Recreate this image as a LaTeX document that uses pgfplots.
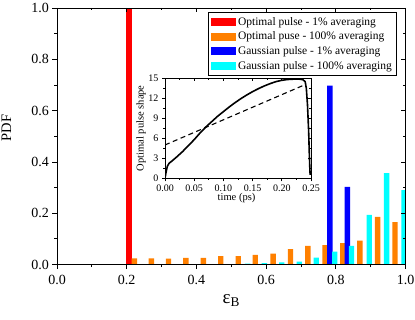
\documentclass[border=0pt]{standalone}
\usepackage{fontspec}
\setmainfont{Liberation Serif}
\usepackage{pgfplots}
\pgfplotsset{compat=1.18}
\definecolor{cRed}{RGB}{255,0,0}
\definecolor{cOrange}{RGB}{255,128,0}
\definecolor{cBlue}{RGB}{0,0,255}
\definecolor{cCyan}{RGB}{0,255,255}
\pgfplotsset{
  mainframe/.style={at={(57pt,54.5pt)}, anchor=south west, scale only axis,
    width=348.5pt, height=256.5pt, xmin=0, xmax=1, ymin=0, ymax=1,
    xtick={0,0.2,0.4,0.6,0.8,1}, minor xtick={0.1,0.3,0.5,0.7,0.9},
    ytick={0,0.2,0.4,0.6,0.8,1}, minor ytick={0.1,0.3,0.5,0.7,0.9},
    major tick length=4.5pt, minor tick length=2.5pt,
    axis line style={line width=0.8pt},
    every tick/.style={black, line width=0.8pt}},
  insetframe/.style={at={(165pt,140.7pt)}, anchor=south west, scale only axis,
    width=146pt, height=100pt, xmin=0, xmax=0.25, ymin=0, ymax=15,
    xtick={0,0.05,0.1,0.15,0.2,0.25}, minor xtick={0.025,0.075,0.125,0.175,0.225},
    ytick={0,3,6,9,12,15}, minor ytick={1.5,4.5,7.5,10.5,13.5},
    major tick length=3pt, minor tick length=1.6pt,
    axis line style={line width=0.7pt},
    every tick/.style={black, line width=0.7pt}},
}
\begin{document}
\begin{tikzpicture}
\path[use as bounding box] (0pt,0pt) rectangle (415pt,319pt);
% main axis
\begin{axis}[mainframe, xtick pos=left, ytick pos=left, tick align=outside,
  tick label style={font=\fontsize{14}{16}\selectfont},
  xticklabel style={yshift=-3pt},
  /pgf/number format/.cd, fixed, fixed zerofill, precision=1, assume math mode=true, /pgfplots/.cd,
  xlabel={\fontsize{19}{21}\selectfont ε\textsubscript{B}},
  xlabel style={at={(axis description cs:0.5,-0.14)}, anchor=center},
  ylabel={\fontsize{14.5}{16}\selectfont PDF},
  ylabel style={at={(axis description cs:-0.145,0.532)}, anchor=center},
  legend style={at={(0.433,0.984)}, anchor=north west, draw=black, line width=0.6pt,
    font=\fontsize{11.5}{13}\selectfont, row sep=0.6pt, inner sep=2.5pt,
    nodes={inner sep=2.3pt}},
  legend cell align=left]
\addplot[ybar, bar width=0.0155, bar shift=0pt, fill=cRed, draw=none,
  legend image code/.code={\fill[cRed] (0pt,-4pt) rectangle (25pt,4pt);}]
  coordinates {(0.207,1.0)};
\addlegendentry{Optimal pulse - 1\% averaging}
\addplot[ybar, bar width=0.0155, bar shift=0pt, fill=cOrange, draw=none,
  legend image code/.code={\fill[cOrange] (0pt,-4pt) rectangle (25pt,4pt);}]
  coordinates {(0.222,0.024)(0.271,0.024)(0.320,0.023)(0.370,0.026)(0.420,0.026)
  (0.470,0.033)(0.520,0.033)(0.569,0.038)(0.620,0.042)(0.670,0.060)(0.720,0.073)
  (0.769,0.076)(0.820,0.083)(0.869,0.093)(0.920,0.186)(0.970,0.165)};
\addlegendentry{Optimal puse - 100\% averaging}
\addplot[ybar, bar width=0.0155, bar shift=0pt, fill=cBlue, draw=none,
  legend image code/.code={\fill[cBlue] (0pt,-4pt) rectangle (25pt,4pt);}]
  coordinates {(0.783,0.697)(0.833,0.303)};
\addlegendentry{Gaussian pulse - 1\% averaging}
\addplot[ybar, bar width=0.0155, bar shift=0pt, fill=cCyan, draw=none,
  legend image code/.code={\fill[cCyan] (0pt,-4pt) rectangle (25pt,4pt);}]
  coordinates {(0.547,0.003)(0.595,0.005)(0.645,0.008)(0.695,0.011)(0.744,0.027)
  (0.797,0.050)(0.845,0.073)(0.896,0.193)(0.946,0.356)(0.996,0.290)};
\addlegendentry{Gaussian pulse - 100\% averaging}
\end{axis}
% mirrored inward ticks on top/right
\begin{axis}[mainframe, xtick pos=right, ytick pos=right, tick align=inside,
  xticklabels={}, yticklabels={}]
\end{axis}
% inset
\begin{axis}[insetframe, xtick pos=left, ytick pos=left, tick align=outside,
  axis background/.style={fill=white},
  tick label style={font=\fontsize{10}{11}\selectfont},
  xticklabel style={/pgf/number format/.cd, fixed, fixed zerofill, precision=2, assume math mode=true},
  yticklabel style={/pgf/number format/.cd, fixed, precision=0, assume math mode=true},
  xlabel={\fontsize{10.5}{12}\selectfont time (ps)},
  xlabel style={at={(axis description cs:0.49,-0.2)}, anchor=center},
  ylabel={\fontsize{10.5}{12}\selectfont Optimal pulse shape},
  ylabel style={at={(axis description cs:-0.163,0.5)}, anchor=center}]
\addplot[black, line width=1.6pt] coordinates {
  (0,0) (0.002,1.0) (0.004,1.8) (0.007,2.25) (0.012,2.6) (0.02,3.2) (0.03,4.0)
  (0.04,4.9) (0.05,5.8) (0.06,6.8) (0.07,7.7) (0.08,8.5) (0.09,9.3) (0.10,10.0)
  (0.11,10.7) (0.12,11.35) (0.13,11.95) (0.14,12.5) (0.15,13.0) (0.16,13.45)
  (0.17,13.85) (0.18,14.2) (0.19,14.5) (0.20,14.7) (0.21,14.82) (0.22,14.87)
  (0.23,14.87) (0.236,14.8) (0.240,14.5) (0.242,13.5) (0.244,11.0) (0.246,7.0)
  (0.247,4.0) (0.248,1.5) (0.2485,0.5)};
\addplot[black, line width=1.1pt, dash pattern=on 5pt off 3.5pt] coordinates {
  (0,5.0) (0.2385,14.0)};
\end{axis}
\begin{axis}[insetframe, xtick pos=right, ytick pos=right, tick align=inside,
  xticklabels={}, yticklabels={}]
\end{axis}
\end{tikzpicture}
\end{document}
